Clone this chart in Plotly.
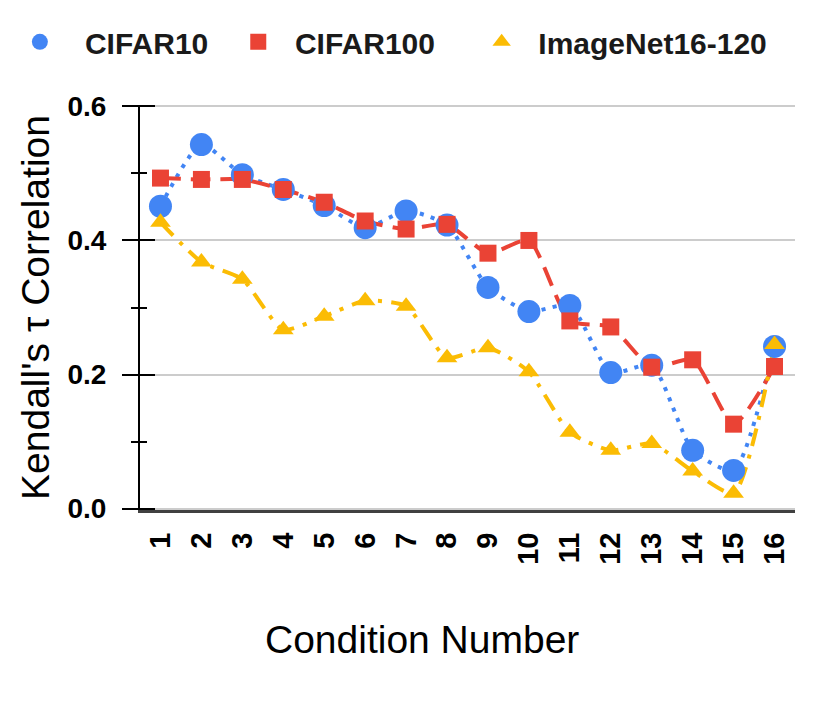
import plotly.graph_objects as go

conditions = [str(i) for i in range(1, 17)]

cifar10 = [0.451, 0.543, 0.498, 0.476, 0.452, 0.419, 0.444, 0.423,
           0.330, 0.294, 0.303, 0.203, 0.214, 0.087, 0.057, 0.242]
cifar100 = [0.493, 0.491, 0.491, 0.476, 0.457, 0.429, 0.417, 0.424,
            0.381, 0.400, 0.280, 0.271, 0.211, 0.222, 0.126, 0.212]
imagenet = [0.427, 0.368, 0.342, 0.267, 0.287, 0.310, 0.302, 0.225,
            0.240, 0.204, 0.114, 0.087, 0.097, 0.056, 0.023, 0.245]

y_ticks = [0.0, 0.2, 0.4, 0.6]
y_tick_text = ["0.0", "0.2", "0.4", "0.6"]
y_range = [-0.002, 0.602]

FONT = "Arial, Liberation Sans, sans-serif"
NBSP = "\u00a0"

# name, values, colour, marker, marker size, dash, legend padding (before, after)
series = [
    ("CIFAR10", cifar10, "#4285F4", "circle", 23, "4px,7px", (3, 3)),
    ("CIFAR100", cifar100, "#EA4335", "square", 17, "20px,10px", (2, 5)),
    ("ImageNet16-120", imagenet, "#FBBC04", "triangle-up", 18, "18px,9px,4px,9px", (2, 0)),
]

fig = go.Figure()

# lines first, so all markers sit on top (like the Sheets chart)
for name, vals, color, symbol, size, dash, pad in series:
    fig.add_trace(go.Scatter(
        x=conditions, y=vals, mode="lines", showlegend=False,
        line=dict(color=color, width=4, dash=dash, shape="spline", smoothing=0.6),
        hoverinfo="skip",
    ))

for name, vals, color, symbol, size, dash, pad in series:
    fig.add_trace(go.Scatter(
        x=conditions, y=vals, mode="markers",
        name=NBSP * pad[0] + name + NBSP * pad[1],
        marker=dict(color=color, symbol=symbol, size=size),
    ))

# invisible trace on a second y axis, only to draw the inner half of the ticks
fig.add_trace(go.Scatter(x=conditions, y=cifar10, yaxis="y2", mode="markers",
                         marker=dict(opacity=0), showlegend=False, hoverinfo="skip"))

fig.add_annotation(
    text="Condition Number", xref="paper", yref="paper",
    x=0.43, y=-0.32, xanchor="center", yanchor="middle",
    showarrow=False, font=dict(size=39, family=FONT, color="#000000"),
)

fig.update_layout(
    width=822,
    height=700,
    paper_bgcolor="white",
    plot_bgcolor="white",
    font=dict(family=FONT, color="#000000"),
    margin=dict(l=132, r=35, t=97, b=198, autoexpand=False),
    # legend anchored left of the plot area so it may use the left margin too (one row)
    legend=dict(
        orientation="h",
        x=-0.1834, xanchor="left",
        y=1.156, yanchor="middle",
        font=dict(size=30, family=FONT, weight="bold", color="#1a1a1a"),
    ),
    xaxis=dict(
        type="category",
        range=[-0.5, 15.5],
        tickangle=-90,
        tickfont=dict(size=29, weight="bold"),
        showgrid=False,
        showline=True,
        linecolor="#404040",
        linewidth=3,
        ticks="",
        ticklabelstandoff=8,
    ),
    yaxis=dict(
        range=y_range,
        tickvals=y_ticks,
        ticktext=y_tick_text,
        tickfont=dict(size=28, weight="bold"),
        showgrid=True,
        gridcolor="#cccccc",
        gridwidth=2,
        zeroline=False,
        showline=True,
        linecolor="#000000",
        linewidth=2,
        ticks="outside",
        ticklen=16,
        tickwidth=2,
        tickcolor="#000000",
        ticklabelstandoff=10,
        minor=dict(dtick=0.1, tick0=0, ticks="outside", ticklen=7, tickwidth=2,
                   tickcolor="#000000", showgrid=False),
        title=dict(text="Kendall's τ Correlation", font=dict(size=39), standoff=6),
    ),
    yaxis2=dict(
        overlaying="y",
        side="left",
        range=y_range,
        tickvals=y_ticks,
        showticklabels=False,
        showgrid=False,
        zeroline=False,
        ticks="inside",
        ticklen=15,
        tickwidth=2,
        tickcolor="#000000",
        minor=dict(dtick=0.1, tick0=0, ticks="inside", ticklen=7, tickwidth=2,
                   tickcolor="#000000", showgrid=False),
    ),
)

fig.write_html("out.html")
